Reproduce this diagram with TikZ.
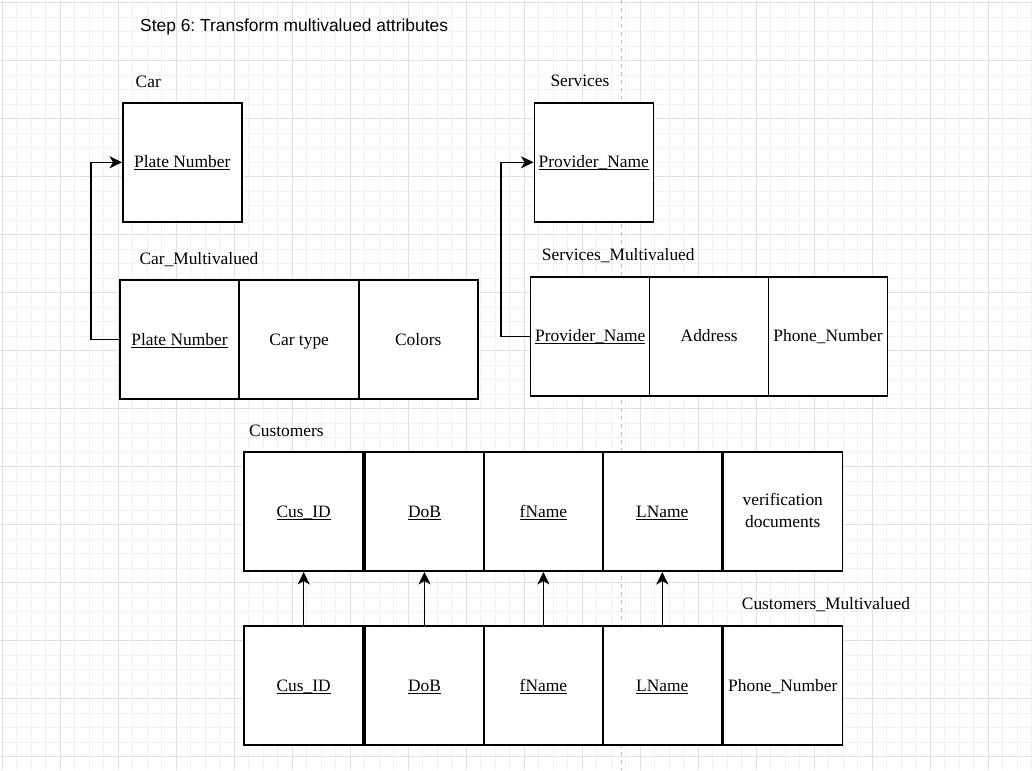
\documentclass[tikz,border=0pt]{standalone}
\usepackage{fontspec}
\setmainfont{Liberation Serif}
\newfontfamily\titlefont{Liberation Sans}
\usetikzlibrary{arrows.meta}
\frenchspacing
\definecolor{gridmajor}{HTML}{E0E0E0}
\definecolor{gridminor}{HTML}{F2F2F2}
\definecolor{pagebreak}{HTML}{C0C0C0}
\newcommand\ulkey[1]{\setbox0=\hbox{#1}\rlap{\rule[-2.6pt]{\wd0}{1pt}}\box0}
\newcommand\boxstrut{\rule[-4.5pt]{0pt}{20pt}}
\tikzset{
  every node/.style={font=\fontsize{17.4}{21.7}\selectfont},
  tbox/.style={draw=black, line width=1.5pt, fill=white, minimum width=119pt, minimum height=119pt, inner sep=0pt, align=center, execute at begin node=\boxstrut},
  lbl/.style={anchor=base west, inner sep=0pt},
  arr/.style={draw=black, line width=1.5pt, -{Stealth[length=12.5pt, width=12pt, inset=3.5pt]}},
}
\begin{document}
\begin{tikzpicture}[x=1pt, y=-1pt]
\useasboundingbox (0,0) rectangle (1032,770);
% grid
\foreach \k in {0,...,71} {\draw[gridminor, line width=1pt] ({2+14.5*\k},0) -- ({2+14.5*\k},770);}
\foreach \k in {0,...,52} {\draw[gridminor, line width=1pt] (0,{2.7+14.5*\k}) -- (1032,{2.7+14.5*\k});}
\foreach \k in {0,...,17} {\draw[gridmajor, line width=1pt] ({2+58*\k},0) -- ({2+58*\k},770);}
\foreach \k in {0,...,13} {\draw[gridmajor, line width=1pt] (0,{2.7+58*\k}) -- (1032,{2.7+58*\k});}
\draw[pagebreak, line width=1pt, dash pattern=on 4pt off 4pt] (621.5,0) -- (621.5,770);

% title
\node[lbl] (title) at (140,31.7) {\titlefont Step 6: Transform multivalued attributes};

% Car
\node[lbl] (carlbl) at (135.5,87.3) {Car};
\node[tbox] (car) at (182.3,162.3) {\ulkey{Plate Number}};

\node[lbl] (cmlbl) at (139.3,264) {Car\_Multivalued};
\node[tbox] (cm1) at (179.5,339.5) {\ulkey{Plate Number}};
\node[tbox] (cm2) at (299.2,339.5) {Car type};
\node[tbox] (cm3) at (418.3,339.5) {Colors};

% Services
\node[lbl] (svlbl) at (550.3,86.9) {Services};
\node[tbox] (sv) at (593.8,162.3) {\ulkey{Provider\_Name}};

\node[lbl] (smlbl) at (541.7,260.7) {Services\_Multivalued};
\node[tbox] (sm1) at (590.2,336.3) {\ulkey{Provider\_Name}};
\node[tbox] (sm2) at (709.2,336.3) {Address};
\node[tbox] (sm3) at (828,336.3) {Phone\_Number};

% Customers
\node[lbl] (culbl) at (249,436.3) {Customers};
\node[tbox] (cu1) at (303.7,511.7) {\ulkey{Cus\_ID}};
\node[tbox] (cu2) at (424.5,511.7) {\ulkey{DoB}};
\node[tbox] (cu3) at (543.4,511.7) {\ulkey{fName}};
\node[tbox] (cu4) at (662.3,511.7) {\ulkey{LName}};
\node[tbox] (cu5) at (782.8,511.7) {\raisebox{-4pt}{\renewcommand\arraystretch{1.03}\begin{tabular}{@{}c@{}}verification\\documents\end{tabular}}};

\node[lbl] (cmvlbl) at (741.7,609.3) {Customers\_Multivalued};
\node[tbox] (cv1) at (303.7,685.5) {\ulkey{Cus\_ID}};
\node[tbox] (cv2) at (424.5,685.5) {\ulkey{DoB}};
\node[tbox] (cv3) at (543.4,685.5) {\ulkey{fName}};
\node[tbox] (cv4) at (662.3,685.5) {\ulkey{LName}};
\node[tbox] (cv5) at (782.8,685.5) {Phone\_Number};

% connectors
\draw[arr] (cm1.west) -- ++(-28.5,0) |- (car.west);
\draw[arr] (sm1.west) -- ++(-29,0) |- (sv.west);
\draw[arr] (cv1.north) -- (cu1.south);
\draw[arr] (cv2.north) -- (cu2.south);
\draw[arr] (cv3.north) -- (cu3.south);
\draw[arr] (cv4.north) -- (cu4.south);
\end{tikzpicture}
\end{document}
